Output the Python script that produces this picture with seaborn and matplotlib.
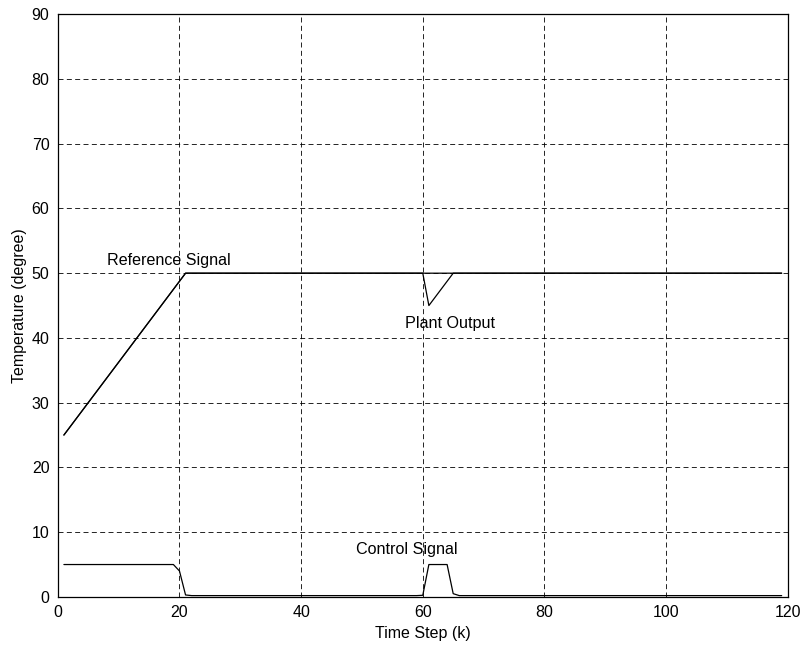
import numpy as np
import pandas as pd
import matplotlib
matplotlib.use("Agg")
import matplotlib.pyplot as plt
import seaborn as sns

# time steps
k = list(range(1, 120))

# reference signal: ramp 25 -> 50 over k=1..21, then hold 50
reference = [25 + 1.25 * (i - 1) if i <= 21 else 50.0 for i in k]

# plant output follows reference, with a dip after k=60
plant_dip = {61: 45.0, 62: 46.25, 63: 47.5, 64: 48.75}
plant = [plant_dip.get(i, r) for i, r in zip(k, reference)]

# control signal
control_vals = {19: 5.0, 20: 4.0, 21: 0.3, 60: 0.25, 61: 5.0, 62: 5.0, 63: 5.0,
                64: 5.0, 65: 0.5, 66: 0.2}
control = [control_vals.get(i, 5.0 if i < 19 else 0.2) for i in k]

df = pd.DataFrame({"k": k * 3,
                   "value": reference + plant + control,
                   "series": ["Reference"] * len(k) + ["Plant"] * len(k) + ["Control"] * len(k)})

sns.set_style("white")
plt.rcParams['font.family'] = ['Liberation Sans', 'DejaVu Sans']
plt.rcParams.update({"text.color": "black", "axes.labelcolor": "black",
                     "xtick.color": "black", "ytick.color": "black"})

fig, ax = plt.subplots(figsize=(8.03, 6.46), dpi=100)
fig.subplots_adjust(left=0.072, right=0.981, top=0.978, bottom=0.076)

sns.lineplot(data=df, x="k", y="value", units="series", estimator=None,
             color="black", linewidth=0.9, ax=ax, legend=False)

ax.set_xlim(0, 120)
ax.set_ylim(0, 90)
ax.set_xticks(range(0, 121, 20))
ax.set_yticks(range(0, 91, 10))
ax.grid(True, color="black", linestyle=(0, (6, 4)), linewidth=0.6)
ax.tick_params(direction="in", length=0, labelsize=11.5, pad=6)
for s in ax.spines.values():
    s.set_color("black")
    s.set_linewidth(0.9)

ax.set_xlabel("Time Step (k)", fontsize=11.5, labelpad=4)
ax.set_ylabel("Temperature (degree)", fontsize=11.5, labelpad=3)

ax.text(8.1, 51.9, "Reference Signal", fontsize=11.6, va="center")
ax.text(57.1, 42.3, "Plant Output", fontsize=11.6, va="center")
ax.text(49.0, 7.3, "Control Signal", fontsize=11.6, va="center")

plt.savefig("out.png", dpi=100)
